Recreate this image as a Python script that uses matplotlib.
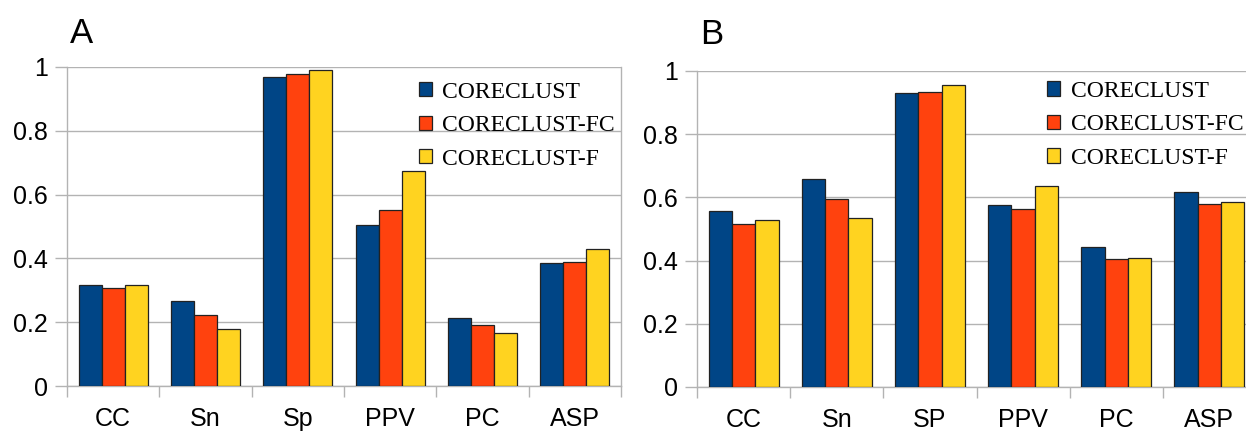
import matplotlib
matplotlib.use('Agg')
import matplotlib.pyplot as plt
import numpy as np

# --- data ---
series = ['CORECLUST', 'CORECLUST-FC', 'CORECLUST-F']
colors = ['#004586', '#ff420e', '#ffd320']

cats_a = ['CC', 'Sn', 'Sp', 'PPV', 'PC', 'ASP']
coreclust_a = [0.317, 0.266, 0.969, 0.506, 0.212, 0.387]
coreclust_fc_a = [0.308, 0.224, 0.979, 0.553, 0.190, 0.389]
coreclust_f_a = [0.316, 0.180, 0.990, 0.675, 0.167, 0.428]

cats_b = ['CC', 'Sn', 'SP', 'PPV', 'PC', 'ASP']
coreclust_b = [0.557, 0.659, 0.931, 0.577, 0.444, 0.618]
coreclust_fc_b = [0.517, 0.594, 0.934, 0.563, 0.406, 0.579]
coreclust_f_b = [0.529, 0.535, 0.955, 0.635, 0.409, 0.585]

yticks = [0, 0.2, 0.4, 0.6, 0.8, 1]
ytick_labels = ['0', '0.2', '0.4', '0.6', '0.8', '1']

GRID = '#b3b3b3'
W, H = 1246, 434


def draw_panel(ax, cats, values, letter, letter_pos, leg_anchor):
    x = np.arange(len(cats))
    width = 0.25
    for i, (vals, name, col) in enumerate(zip(values, series, colors)):
        ax.bar(x + (i - 1) * width, vals, width, color=col, edgecolor='#222222',
               linewidth=0.9, label=name, zorder=3)

    ax.set_xlim(-0.5, len(cats) - 0.5)
    ax.set_ylim(0, 1)

    # category separators as major ticks, labels on minor ticks at centres
    ax.set_xticks(np.arange(len(cats) + 1) - 0.5)
    ax.set_xticklabels([])
    ax.set_xticks(x, minor=True)
    ax.set_xticklabels(cats, minor=True, fontsize=18, family='Liberation Sans')
    ax.tick_params(axis='x', which='major', length=8, width=1, color=GRID, direction='out')
    ax.tick_params(axis='x', which='minor', length=0, pad=15)

    ax.set_yticks(yticks)
    ax.set_yticklabels(ytick_labels, fontsize=18, family='Liberation Sans')
    ax.tick_params(axis='y', length=8.5, width=1, color=GRID, pad=5)

    ax.grid(axis='y', color=GRID, linewidth=1, zorder=0)
    ax.set_axisbelow(True)
    for side in ['left', 'bottom', 'right']:
        ax.spines[side].set_color(GRID)
        ax.spines[side].set_linewidth(1)
    ax.spines['top'].set_visible(False)

    ax.legend(loc='upper left', bbox_to_anchor=leg_anchor, frameon=False,
              prop={'family': 'Liberation Serif', 'size': 17},
              handlelength=0.55, handleheight=0.55, handletextpad=0.45,
              labelspacing=0.53, borderpad=0, borderaxespad=0)

    ax.text(letter_pos[0], letter_pos[1], letter, transform=ax.transAxes, fontsize=25,
            family='Liberation Sans', va='baseline')


fig = plt.figure(figsize=(W / 100, H / 100), dpi=100)

ax_a = fig.add_axes([67 / W, 1 - 386 / H, (621 - 67) / W, (386 - 67) / H])
draw_panel(ax_a, cats_a, [coreclust_a, coreclust_fc_a, coreclust_f_a], 'A',
           (0.005, 1.075), (0.635, 0.954))

ax_b = fig.add_axes([697 / W, 1 - 387 / H, (1256 - 697) / W, (387 - 71) / H])
draw_panel(ax_b, cats_b, [coreclust_b, coreclust_fc_b, coreclust_f_b], 'B',
           (0.005, 1.085), (0.626, 0.969))

fig.savefig('out.png', dpi=100)
